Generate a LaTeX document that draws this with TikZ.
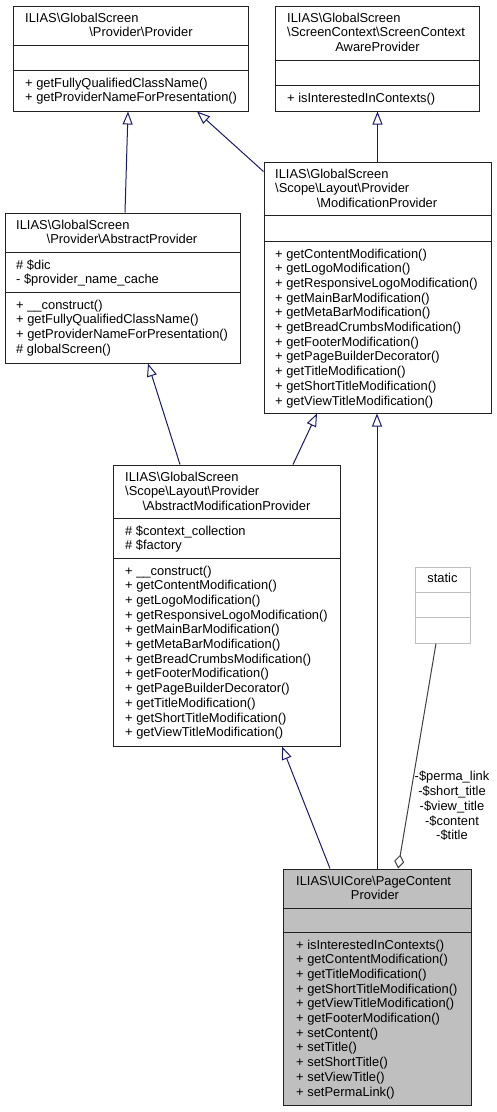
\documentclass[tikz,border=0pt]{standalone}
\usepackage{fontspec}
\setmainfont{Liberation Sans}
\usetikzlibrary{arrows.meta}
\definecolor{edgeblue}{HTML}{191970}
\definecolor{boxgray}{HTML}{BFBFBF}
\definecolor{aggr}{HTML}{404040}
\definecolor{boxline}{HTML}{222222}
\newcommand\bsl{\textbackslash}
\newcommand\umlrows[4]{\foreach \rowtext [count=\i] in {#4}{\node[txt, anchor=base west] (#1\i) at (#2, {#3+(\i-1)*14.7}) {\rowtext};}}
\begin{document}
\begin{tikzpicture}[x=1pt,y=-1pt,
  txt/.style={inner sep=0pt, font=\fontsize{12.9}{14.7}\selectfont},
  box/.style={draw=boxline, line width=1pt, inner sep=0pt},
  sep/.style={draw=boxline, line width=1pt},
  inh/.style={draw=edgeblue, line width=1pt, -{Triangle[open, length=13pt, width=10pt]}},
  agg/.style={draw=aggr, line width=1pt, -{Diamond[open, length=14pt, width=10pt]}}]
\useasboundingbox (0,0) rectangle (497,1112);

% ---------- boxes ----------
\node[box, minimum width=235pt, minimum height=105pt] (b1) at (130.5,58.5) {};
\node[box, minimum width=204pt, minimum height=105pt] (b2) at (377,58.5) {};
\node[box, minimum width=227pt, minimum height=251pt] (b3) at (377.5,287.5) {};
\node[box, minimum width=235pt, minimum height=150pt] (b4) at (122.5,288) {};
\node[box, minimum width=227pt, minimum height=281pt] (b5) at (226.5,605.5) {};
\node[box, draw=boxgray, minimum width=55pt, minimum height=76pt] (bs) at (442.5,605) {};
\node[box, fill=boxgray, minimum width=188pt, minimum height=236pt] (b6) at (377,987) {};

% compartment separators
\foreach \n/\a/\b in {b1/40/65, b2/55/80, b3/54/80, b4/40/80, b5/54/94, b6/40/64}{
  \draw[sep] ([yshift=-\a pt]\n.north west) -- ([yshift=-\a pt]\n.north east);
  \draw[sep] ([yshift=-\b pt]\n.north west) -- ([yshift=-\b pt]\n.north east);
}
\draw[sep, draw=boxgray] ([yshift=-26pt]bs.north west) -- ([yshift=-26pt]bs.north east);
\draw[sep, draw=boxgray] ([yshift=-51pt]bs.north west) -- ([yshift=-51pt]bs.north east);

% ---------- texts ----------
% b1
\node[txt, anchor=base west] (b1t1) at (25,22) {ILIAS\bsl GlobalScreen};
\node[txt, anchor=base] (b1t2) at (141,36.7) {\bsl Provider\bsl Provider};
\umlrows{b1m}{25}{87}{+ getFullyQualifiedClassName(), + getProviderNameForPresentation()}

% b2
\node[txt, anchor=base west] (b2t1) at (287,22) {ILIAS\bsl GlobalScreen};
\node[txt, anchor=base west] (b2t2) at (287,36.7) {\bsl ScreenContext\bsl ScreenContext};
\node[txt, anchor=base] (b2t3) at (377.5,51.4) {AwareProvider};
\umlrows{b2m}{287}{102}{+ isInterestedInContexts()}

% b3
\node[txt, anchor=base west] (b3t1) at (275,178) {ILIAS\bsl GlobalScreen};
\node[txt, anchor=base west] (b3t2) at (275,192.7) {\bsl Scope\bsl Layout\bsl Provider};
\node[txt, anchor=base] (b3t3) at (377,207.4) {\bsl ModificationProvider};
\umlrows{b3m}{275}{258}{+ getContentModification(), + getLogoModification(), + getResponsiveLogoModification(), + getMainBarModification(), + getMetaBarModification(), + getBreadCrumbsModification(), + getFooterModification(), + getPageBuilderDecorator(), + getTitleModification(), + getShortTitleModification(), + getViewTitleModification()}

% b4
\node[txt, anchor=base west] (b4t1) at (16,229) {ILIAS\bsl GlobalScreen};
\node[txt, anchor=base] (b4t2) at (122,243.7) {\bsl Provider\bsl AbstractProvider};
\umlrows{b4a}{16}{269}{\# \$dic, - \$provider\_name\_cache}
\umlrows{b4m}{16}{309}{+ \_\_construct(), + getFullyQualifiedClassName(), + getProviderNameForPresentation(), \# globalScreen()}

% b5
\node[txt, anchor=base west] (b5t1) at (125,481) {ILIAS\bsl GlobalScreen};
\node[txt, anchor=base west] (b5t2) at (125,495.7) {\bsl Scope\bsl Layout\bsl Provider};
\node[txt, anchor=base] (b5t3) at (226.5,510.4) {\bsl AbstractModificationProvider};
\umlrows{b5a}{125}{535}{\# \$context\_collection, \# \$factory}
\umlrows{b5m}{125}{575}{+ \_\_construct(), + getContentModification(), + getLogoModification(), + getResponsiveLogoModification(), + getMainBarModification(), + getMetaBarModification(), + getBreadCrumbsModification(), + getFooterModification(), + getPageBuilderDecorator(), + getTitleModification(), + getShortTitleModification(), + getViewTitleModification()}

% static
\node[txt, anchor=base] (bst) at (442.5,582.5) {static};

% b6
\node[txt, anchor=base west] (b6t1) at (296,885) {ILIAS\bsl UICore\bsl PageContent};
\node[txt, anchor=base] (b6t2) at (375,899.7) {Provider};
\umlrows{b6m}{296}{949}{+ isInterestedInContexts(), + getContentModification(), + getTitleModification(), + getShortTitleModification(), + getViewTitleModification(), + getFooterModification(), + setContent(), + setTitle(), + setShortTitle(), + setViewTitle(), + setPermaLink()}

% ---------- connectors ----------
\draw[inh] ([xshift=2.5pt]b4.north) -- ([xshift=-2.5pt]b1.south);
\draw[inh] ([yshift=-10pt]b3.north west) -- ([xshift=66.5pt]b1.south);
\draw[inh] (b3.north) -- (b3.north |- b2.south);
\draw[inh] ([xshift=-46.5pt]b5.north) -- ([xshift=25.5pt]b4.south);
\draw[inh] ([xshift=66.5pt]b5.north) -- ([xshift=-60.5pt]b3.south);
\draw[inh] ([xshift=-47pt]b6.north) -- ([xshift=55.5pt]b5.south);
\draw[inh] (b6.north) -- (b6.north |- b3.south);
\draw[agg] ([xshift=-6.5pt]bs.south) -- ([xshift=21pt]b6.north);
\node[txt, align=center] (agglbl) at (452,806) {-\$perma\_link\\-\$short\_title\\-\$view\_title\\-\$content\\-\$title};
\end{tikzpicture}
\end{document}
